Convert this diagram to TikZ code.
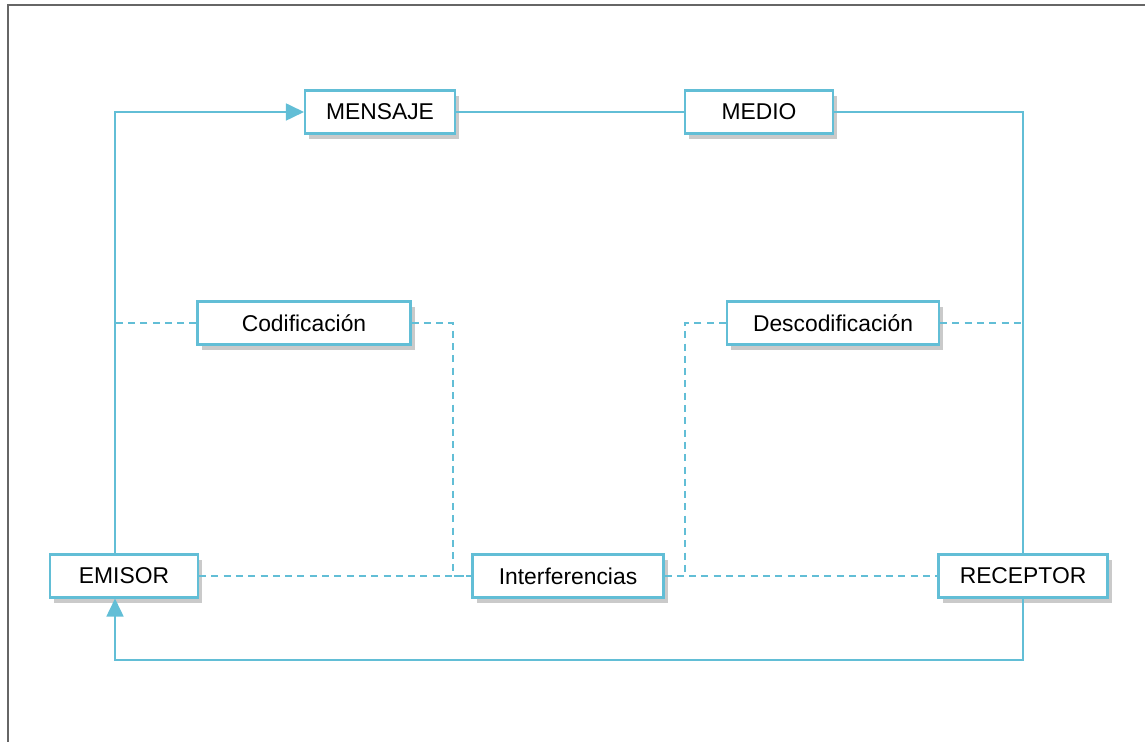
\documentclass[tikz,border=0pt]{standalone}
\usepackage{fontspec}
\setmainfont{Liberation Sans}
\usepackage{xcolor}
\usetikzlibrary{positioning,arrows.meta,shadows,calc}

\definecolor{linea}{RGB}{98,190,214}

\begin{document}
\begin{tikzpicture}[
  x=0.02cm, y=-0.02cm,
  font=\fontsize{13}{15}\selectfont,
  box/.style={draw=linea, line width=1.2pt, fill=white, align=center, minimum height=0.86cm, inner sep=2pt,
    drop shadow={shadow xshift=2.5pt, shadow yshift=-3pt, opacity=0.35, fill=black!60}},
  arr/.style={-{Triangle[length=3.6mm, width=3.4mm]}, draw=linea, line width=1pt},
  lin/.style={draw=linea, line width=1pt},
  dsh/.style={draw=linea, line width=1pt, dash pattern=on 4pt off 3pt}]

\useasboundingbox (0,0) rectangle (1145,742);
% page frame
\draw[gray!80!black, line width=1.2pt] (8,742) -- (8,5) -- (1145,5);

% top row
\node[box, minimum width=3cm] (mensaje) at (380,112) {MENSAJE};
\node[box, minimum width=2.96cm] (medio) at (759,112) {MEDIO};

% middle row
\node[box, minimum width=4.26cm] (codif) at (304,323) {Codificación};
\node[box, minimum width=4.24cm] (descod) at (833,323) {Descodificación};

% bottom row
\node[box, minimum width=2.96cm] (emisor) at (124,576) {EMISOR};
\node[box, minimum width=3.82cm] (interf) at (568,576) {Interferencias};
\node[box, minimum width=3.38cm] (receptor) at (1023,576) {RECEPTOR};

\coordinate (izq) at ($(emisor.north)+(-9,0)$);
\coordinate (abajo) at (1023,660);
\coordinate (codx) at (453,323);
\coordinate (desx) at (685,323);

% solid loop
\draw[arr] (izq) |- (mensaje.west);
\draw[lin] (mensaje) -- (medio);
\draw[lin] (medio.east) -| (receptor.north);
\draw[arr] (receptor.south) |- ($(izq |- abajo)$) -- ($(izq |- emisor.south)$);

% dashed
\draw[dsh] (codif.west) -- (codif.west -| izq);
\draw[dsh] (codif.east) -- (codx) |- (interf.west);
\draw[dsh] (emisor.east) -- (interf.west);
\draw[dsh] (descod.west) -- (desx) |- (interf.east);
\draw[dsh] (interf.east) -- (receptor.west);
\draw[dsh] (descod.east) -- (descod.east -| receptor.north);
\end{tikzpicture}
\end{document}
